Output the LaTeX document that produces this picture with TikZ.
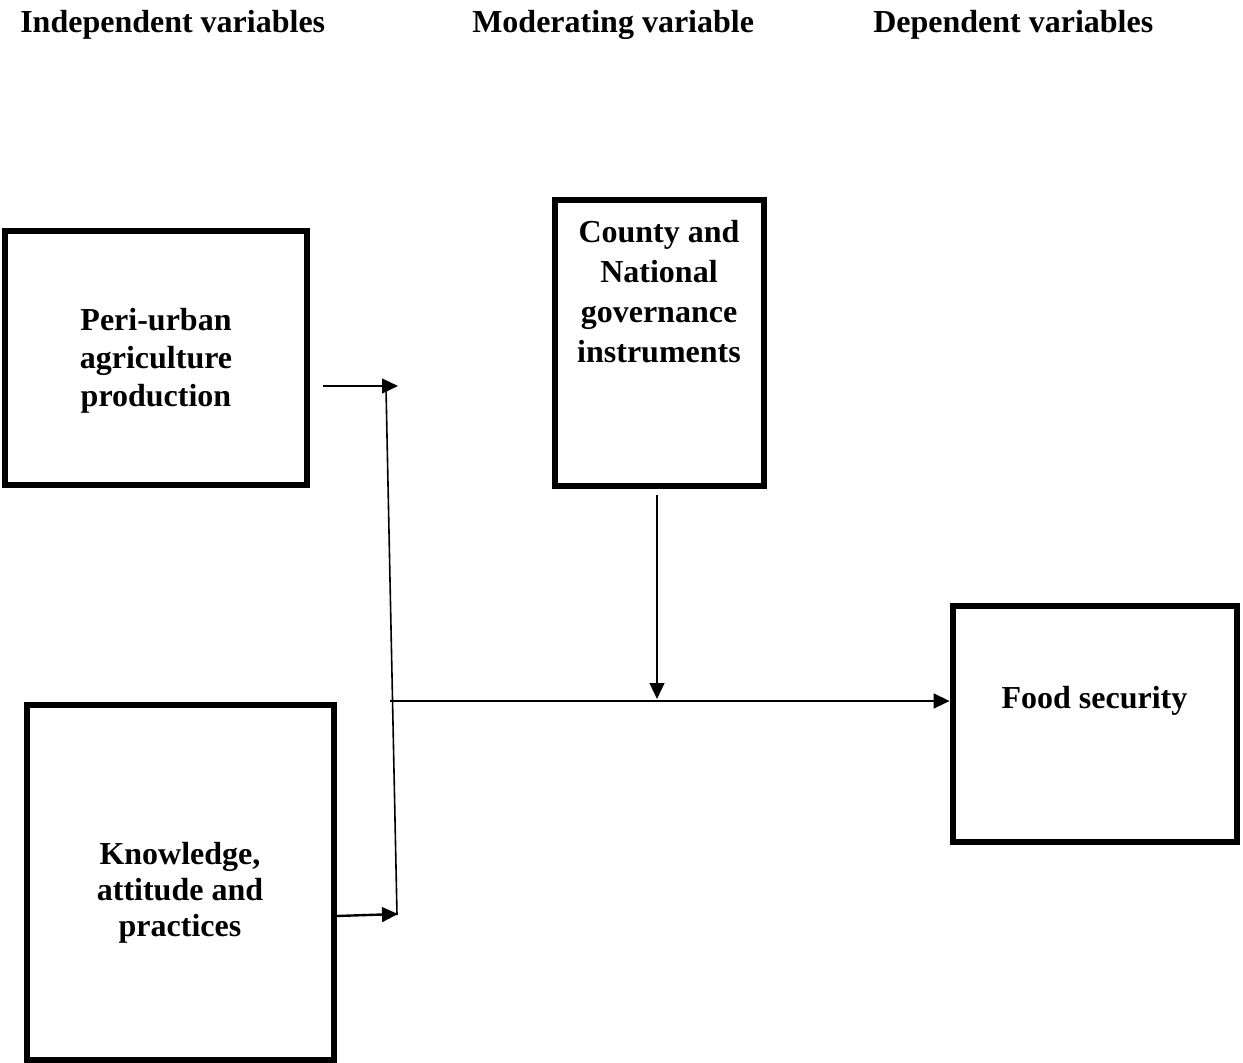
\documentclass[tikz,border=0pt]{standalone}
\usepackage{fontspec}
\setmainfont{Liberation Serif}
\usetikzlibrary{arrows.meta}
\tikzset{
  varbox/.style={draw, line width=5pt, minimum width=#1, inner sep=0pt},
  boxtext/.style={align=center, font=\bfseries\fontsize{24}{28.5}\selectfont, inner sep=0pt},
  heading/.style={anchor=base west, font=\bfseries\fontsize{24}{28.5}\selectfont, inner sep=0pt},
  conn/.style={line width=1.8pt, -{Triangle[length=12pt,width=11pt]}},
  thinline/.style={line width=1.2pt}
}
\begin{document}
\begin{tikzpicture}[x=0.75pt,y=-0.75pt]
\useasboundingbox (0,0) rectangle (1243,1063);
% headings
\node[heading] (h1) at (20,33) {Independent variables};
\node[heading] (h2) at (472,33) {Moderating variable};
\node[heading] (h3) at (873,33) {Dependent variables};
% boxes
\node[varbox=226.5pt, minimum height=190.5pt] (box1) at (156,358) {};
\node[varbox=156.75pt, minimum height=214.5pt] (box2) at (659.5,343) {};
\node[varbox=230.25pt, minimum height=266.25pt] (box3) at (180.5,882.5) {};
\node[varbox=213pt, minimum height=177pt] (box4) at (1095,724) {};
% texts
\node[boxtext] (t1) at (156,361) {Peri-urban\\agriculture\\production};
\node[boxtext, font=\bfseries\fontsize{24}{30}\selectfont] (t2) at (659,292) {County and\\National\\governance\\instruments};
\node[boxtext, font=\bfseries\fontsize{24}{27}\selectfont] (t3) at (180,893) {Knowledge,\\attitude and\\practices};
\node[boxtext] (t4) at (1094.5,701) {Food security};
% coordinates
\coordinate (s1) at (323,386);
\coordinate (j1) at (398,386);
\coordinate (s2) at (337,916);
\coordinate (j2) at (398,914);
\coordinate (v1) at (386,388);
\coordinate (v2) at (397,915);
\coordinate (hstart) at (390,701);
\coordinate (m1) at (657,495);
\coordinate (m2) at (657,699);
% connectors
\draw[conn] (s1) -- (j1);
\draw[conn] (s2) -- (j2);
\draw[thinline] (v1) -- (v2);
\draw[conn] (hstart) -- (box4.west |- hstart);
\draw[conn] (m1) -- (m2);
\end{tikzpicture}
\end{document}
